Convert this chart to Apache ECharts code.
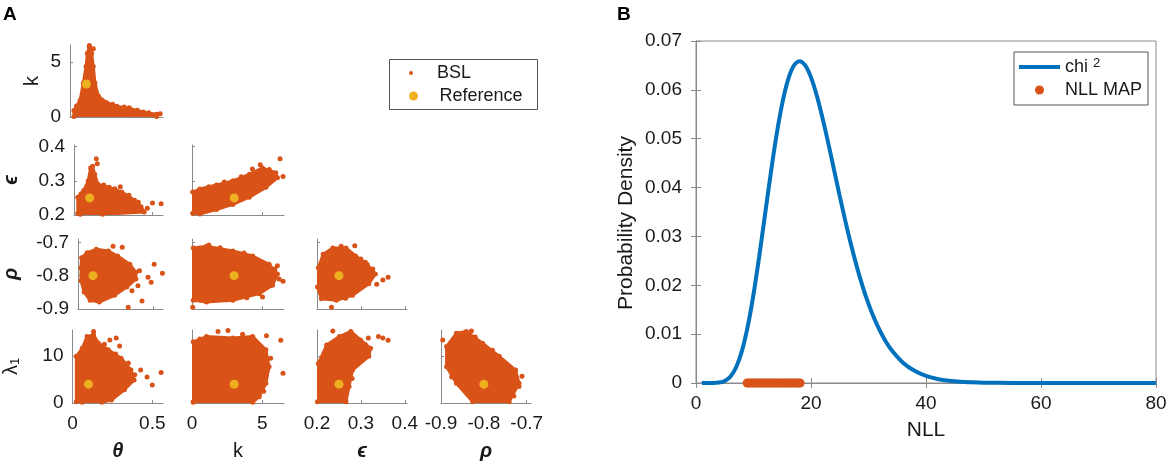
<!DOCTYPE html>
<html>
<head>
<meta charset="utf-8">
<script src="https://cdn.jsdelivr.net/npm/echarts@6/dist/echarts.min.js"></script>
<style>
  html, body { margin: 0; padding: 0; background: #fff; }
  #chart { width: 1170px; height: 464px; }
</style>
</head>
<body>
<div id="chart"></div>
<script>
// ---- panel A: posterior samples, outline of each dense cloud + stray points ----
var thetaK_hull = [[0.024,0.05],[0.024,0.6],[0.061,1.5],[0.081,3.1],[0.098,4.6],[0.106,5.8],[0.118,6.4],[0.132,5.8],[0.142,4.6],[0.152,3.1],[0.173,1.9],[0.224,1.3],[0.285,0.97],[0.366,0.75],[0.447,0.45],[0.528,0.24],[0.528,0.05]];
var thetaK_out = [[0.118,6.5],[0.142,6.2],[0.36,0.85],[0.5,0.2],[0.55,0.3],[0.04,1.0],[0.2,1.45],[0.26,1.15],[0.33,0.9],[0.41,0.62],[0.48,0.38]];

var thetaEps_hull = [[0.024,0.205],[0.024,0.252],[0.061,0.271],[0.091,0.30],[0.106,0.338],[0.118,0.343],[0.132,0.319],[0.152,0.29],[0.224,0.281],[0.305,0.267],[0.386,0.243],[0.427,0.224],[0.447,0.209],[0.183,0.202],[0.04,0.202]];
var thetaEps_out = [[0.142,0.365],[0.148,0.35],[0.467,0.22],[0.5,0.235],[0.555,0.233],[0.295,0.283],[0.41,0.237],[0.19,0.288],[0.26,0.277],[0.35,0.258],[0.045,0.262]];

var kEps_hull = [[0.05,0.205],[0.05,0.267],[0.56,0.276],[1.74,0.288],[2.91,0.30],[4.08,0.319],[5.02,0.338],[5.96,0.324],[6.08,0.309],[5.26,0.281],[4.08,0.252],[2.91,0.231],[1.74,0.216],[0.56,0.203]];
var kEps_out = [[6.27,0.365],[6.48,0.313],[4.86,0.347],[4.3,0.335],[1.2,0.283],[2.3,0.297],[3.5,0.312],[5.5,0.333]];

var thetaRho_hull = [[0.02,-0.776],[0.024,-0.746],[0.061,-0.731],[0.122,-0.721],[0.203,-0.726],[0.264,-0.741],[0.346,-0.766],[0.386,-0.79],[0.386,-0.81],[0.325,-0.834],[0.244,-0.859],[0.142,-0.879],[0.081,-0.874],[0.041,-0.849],[0.02,-0.815]];
var thetaRho_out = [[0.234,-0.712],[0.295,-0.715],[0.508,-0.766],[0.563,-0.793],[0.335,-0.895],[0.427,-0.876],[0.488,-0.82],[0.467,-0.805],[0.41,-0.785],[0.4,-0.83],[0.36,-0.845]];

var kRho_hull = [[0.09,-0.717],[1.03,-0.712],[2.91,-0.726],[4.32,-0.741],[5.49,-0.766],[6.08,-0.795],[5.73,-0.829],[4.79,-0.854],[2.91,-0.874],[1.03,-0.879],[0.09,-0.874]];
var kRho_out = [[0.05,-0.895],[6.48,-0.817],[5.02,-0.864],[1.2,-0.708],[6.08,-0.77],[2.0,-0.716],[3.7,-0.732],[5.9,-0.78],[6.2,-0.81],[3.9,-0.866]];

var epsRho_hull = [[0.203,-0.776],[0.214,-0.736],[0.236,-0.717],[0.266,-0.717],[0.288,-0.741],[0.314,-0.766],[0.333,-0.795],[0.318,-0.824],[0.281,-0.859],[0.244,-0.874],[0.21,-0.869],[0.201,-0.834]];
var epsRho_out = [[0.255,-0.712],[0.286,-0.71],[0.233,-0.895],[0.336,-0.826],[0.35,-0.813],[0.362,-0.805],[0.31,-0.76],[0.3,-0.75],[0.327,-0.78],[0.265,-0.868]];

var thetaLam_hull = [[0.024,0.28],[0.024,9.9],[0.061,11.6],[0.091,14.1],[0.132,14.5],[0.163,12.7],[0.224,11.3],[0.305,9.5],[0.366,7.0],[0.386,4.9],[0.325,2.8],[0.244,0.64],[0.183,0.15],[0.061,0.15]];
var thetaLam_out = [[0.132,15.2],[0.234,13.4],[0.274,13.8],[0.295,12.1],[0.427,7.0],[0.467,5.5],[0.5,3.8],[0.555,6.5],[0.35,8.5],[0.39,6.0],[0.2,12.5],[0.27,10.4]];

var kLam_hull = [[0.09,0.28],[0.09,13.0],[1.03,14.1],[2.91,13.8],[4.32,14.1],[5.26,11.3],[5.49,7.7],[5.26,4.2],[4.79,1.35],[4.32,0.15],[0.09,0.15]];
var kLam_out = [[1.85,15.2],[2.56,15.4],[6.32,13.3],[6.48,6.3],[5.3,14.3],[0.56,13.6],[3.6,14.6],[5.6,9.5],[5.1,2.5]];

var epsLam_hull = [[0.201,0.28],[0.203,8.4],[0.222,12.3],[0.251,14.1],[0.277,15.2],[0.299,13.4],[0.322,11.6],[0.318,9.9],[0.281,7.0],[0.273,3.5],[0.266,0.28]];
var epsLam_out = [[0.34,14.1],[0.35,13.8],[0.362,13.3],[0.317,13.8],[0.236,15.3],[0.31,12.4],[0.29,8.3],[0.28,5.2]];

var rhoLam_hull = [[-0.887,12.0],[-0.864,14.8],[-0.841,15.2],[-0.803,12.7],[-0.764,9.9],[-0.726,7.0],[-0.718,4.2],[-0.741,0.28],[-0.826,0.28],[-0.864,4.2],[-0.887,7.7]];
var rhoLam_out = [[-0.896,13.4],[-0.711,5.7],[-0.718,3.5],[-0.74,7.7],[-0.829,15.3],[-0.82,14.0],[-0.78,11.2],[-0.73,1.5],[-0.875,5.5]];

var reference = { theta: 0.1, k: 3, eps: 0.25, rho: -0.8, lambda: 4 };

var thetaTicks = [0, 0.5];
var kTicks = [0, 5];
var epsTicks = [0.2, 0.3, 0.4];
var rhoTicks = [-0.9, -0.8, -0.7];
var lambdaTicks = [0, 10];

// ---- panel B: chi-square density and NLL at MAP ----
var nllX = [1,2,3,4,5,6,7,8,9,10,11,12,13,14,15,16,17,18,19,20,21,22,23,24,25,26,27,28,29,30,31,32,33,34,36,38,40,42,44,46,48,50,55,60,65,70,75,80];
var chiDensity = [0,0,0.00001,0.0001,0.00043,0.00135,0.00328,0.00662,0.01158,0.01813,0.02593,0.03442,0.0429,0.0507,0.05722,0.06204,0.06493,0.06588,0.065,0.06256,0.05886,0.05426,0.0491,0.04368,0.03826,0.03303,0.02813,0.02367,0.01969,0.0162,0.0132,0.01066,0.0085,0.00676,0.00416,0.00249,0.00145,0.00083,0.00046,0.00025,0.00014,0.00007,0.00001,0,0,0,0,0];
var nllMap = [8.9,9.2,9.6,10.0,10.3,10.7,11.1,11.5,11.8,12.2,12.6,13.0,13.3,13.7,14.1,14.5,14.8,15.2,15.6,16.0,16.3,16.7,17.1,17.5,17.8,18.1];
var chiTicksX = [0, 20, 40, 60, 80];
var chiTicksY = [0, 0.01, 0.02, 0.03, 0.04, 0.05, 0.06, 0.07];

var orange = '#D95319';
var yellow = '#EDB120';
var blue = '#0072BD';
var axisGrey = '#8a8a8a';
var ink = '#1a1a1a';
var font = '"Liberation Sans", Arial, sans-serif';

var vars = {
  theta: { range: [0, 0.567], ticks: thetaTicks, name: 'θ', greek: true },
  k: { range: [0, 6.55], ticks: kTicks, name: 'k' },
  eps: { range: [0.2, 0.405], ticks: epsTicks, name: 'ϵ', greek: true },
  rho: { range: [-0.9, -0.69], ticks: rhoTicks, name: 'ρ', greek: true },
  lambda: { range: [0, 15.5], ticks: lambdaTicks, name: 'λ{sub|1}' }
};
var colVars = ['theta', 'k', 'eps', 'rho'];
var rowVars = ['k', 'eps', 'rho', 'lambda'];
var colLeft = [70, 192, 317, 441];
var colWidth = [93, 92, 90, 90];
var rowTop = [45, 145, 239, 330];
var rowHeight = [72, 70, 70, 73];
var yNameGap = [28, 53, 57, 51];

var panels = [
  [1, 0, thetaK_hull, thetaK_out],
  [2, 0, thetaEps_hull, thetaEps_out],
  [2, 1, kEps_hull, kEps_out],
  [3, 0, thetaRho_hull, thetaRho_out],
  [3, 1, kRho_hull, kRho_out],
  [3, 2, epsRho_hull, epsRho_out],
  [4, 0, thetaLam_hull, thetaLam_out],
  [4, 1, kLam_hull, kLam_out],
  [4, 2, epsLam_hull, epsLam_out],
  [4, 3, rhoLam_hull, rhoLam_out]
];

var grids = [], xAxes = [], yAxes = [], series = [];

function nameStyle(v) {
  return {
    fontFamily: font, fontSize: 20, color: ink,
    fontStyle: v.greek ? 'italic' : 'normal',
    fontWeight: v.greek ? 'bold' : 'normal',
    rich: { sub: { fontSize: 13, fontFamily: font, color: ink, verticalAlign: 'bottom', padding: [8, 0, 0, 0] } }
  };
}

panels.forEach(function(p, i) {
  var row = p[0] - 1, col = p[1];
  var xv = vars[colVars[col]], yv = vars[rowVars[row]];
  var isBottom = row === 3, isLeft = col === 0;
  grids.push({ left: colLeft[col], top: rowTop[row], width: colWidth[col], height: rowHeight[row] });
  xAxes.push({
    type: 'value', gridIndex: i, min: xv.range[0], max: xv.range[1],
    splitLine: { show: false },
    axisLine: { onZero: false, lineStyle: { color: axisGrey, width: 1 } },
    axisTick: { inside: true, length: 3, customValues: xv.ticks, lineStyle: { color: axisGrey } },
    axisLabel: { show: isBottom, customValues: xv.ticks, color: ink, fontSize: 19, fontFamily: font, margin: 11 },
    name: isBottom ? xv.name : '', nameLocation: 'middle', nameGap: 38, nameTextStyle: nameStyle(xv)
  });
  yAxes.push({
    type: 'value', gridIndex: i, min: yv.range[0], max: yv.range[1],
    splitLine: { show: false },
    axisLine: { show: true, onZero: false, lineStyle: { color: axisGrey, width: 1 } },
    axisTick: { show: true, inside: true, length: 3, customValues: yv.ticks, lineStyle: { color: axisGrey } },
    axisLabel: { show: isLeft, customValues: yv.ticks, color: ink, fontSize: 19, fontFamily: font, margin: 9 },
    name: isLeft ? yv.name : '', nameLocation: 'middle', nameRotate: 90, nameGap: yNameGap[row], nameTextStyle: nameStyle(yv)
  });
  var hull = p[2];
  series.push({
    type: 'custom', name: 'cloud', xAxisIndex: i, yAxisIndex: i, silent: true, clip: true,
    data: [hull[0]],
    renderItem: function(params, api) {
      return {
        type: 'polygon',
        shape: { points: hull.map(function(pt) { return api.coord(pt); }) },
        style: { fill: orange, stroke: orange, lineWidth: 3, lineJoin: 'round' }
      };
    }
  });
  series.push({
    type: 'scatter', name: 'BSL', xAxisIndex: i, yAxisIndex: i, symbolSize: 5,
    itemStyle: { color: orange, opacity: 1 }, data: hull.concat(p[3]), silent: true
  });
  series.push({
    type: 'scatter', name: 'Reference', xAxisIndex: i, yAxisIndex: i, symbolSize: 9,
    itemStyle: { color: yellow, opacity: 1 }, z: 5, silent: true,
    data: [[reference[colVars[col]], reference[rowVars[row]]]]
  });
});

// panel B grid
var gB = grids.length;
grids.push({ left: 696, top: 41, width: 460, height: 342, show: true, borderColor: axisGrey, borderWidth: 1, backgroundColor: 'transparent' });
xAxes.push({
  type: 'value', gridIndex: gB, min: 0, max: 80,
  splitLine: { show: false },
  axisLine: { onZero: false, lineStyle: { color: axisGrey } },
  axisTick: { inside: true, length: 5, customValues: chiTicksX, lineStyle: { color: axisGrey } },
  axisLabel: { customValues: chiTicksX, color: ink, fontSize: 19, fontFamily: font, margin: 11 },
  name: 'NLL', nameLocation: 'middle', nameGap: 37,
  nameTextStyle: { fontFamily: font, fontSize: 21, color: ink }
});
yAxes.push({
  type: 'value', gridIndex: gB, min: 0, max: 0.07,
  splitLine: { show: false },
  axisLine: { show: true, onZero: false, lineStyle: { color: axisGrey } },
  axisTick: { show: true, inside: true, length: 5, customValues: chiTicksY, lineStyle: { color: axisGrey } },
  axisLabel: { customValues: chiTicksY, color: ink, fontSize: 19, fontFamily: font, margin: 14 },
  name: 'Probability Density', nameLocation: 'middle', nameRotate: 90, nameGap: 59,
  nameTextStyle: { fontFamily: font, fontSize: 21, color: ink, padding: [0, 22, 0, 0] }
});
// top / right tick marks of the box
xAxes.push({
  type: 'value', gridIndex: gB, position: 'top', min: 0, max: 80,
  splitLine: { show: false }, axisLabel: { show: false },
  axisLine: { show: false },
  axisTick: { inside: true, length: 5, customValues: chiTicksX, lineStyle: { color: axisGrey } }
});
yAxes.push({
  type: 'value', gridIndex: gB, position: 'right', min: 0, max: 0.07,
  splitLine: { show: false }, axisLabel: { show: false },
  axisLine: { show: false },
  axisTick: { show: true, inside: true, length: 5, customValues: chiTicksY, lineStyle: { color: axisGrey } }
});

series.push({
  type: 'line', name: 'chi^2', xAxisIndex: gB, yAxisIndex: gB, smooth: 0.3, symbol: 'none',
  lineStyle: { color: blue, width: 4 }, itemStyle: { color: blue }, z: 3,
  data: nllX.map(function(x, i) { return [x, chiDensity[i]]; })
});
series.push({
  type: 'scatter', name: 'NLL MAP', xAxisIndex: gB, yAxisIndex: gB, symbolSize: 9,
  itemStyle: { color: orange, opacity: 1 }, z: 4, clip: false,
  data: nllMap.map(function(x) { return [x, 0]; })
});

var legendText = { fontFamily: font, fontSize: 18, color: ink, lineHeight: 20, padding: [0, 0, 0, 16] };

var chart = echarts.init(document.getElementById('chart'), null, { renderer: 'canvas' });
chart.setOption({
  animation: false,
  backgroundColor: '#fff',
  grid: grids,
  xAxis: xAxes,
  yAxis: yAxes,
  legend: [
    {
      data: ['BSL'], left: 409, top: 63, padding: 0,
      itemWidth: 10, itemHeight: 4, selectedMode: false, textStyle: legendText
    },
    {
      data: ['Reference'], left: 409, top: 86, padding: 0,
      itemWidth: 10, itemHeight: 9, selectedMode: false, textStyle: legendText
    },
    {
      data: [
        { name: 'chi^2', icon: 'path://M0,0L41,0L41,4L0,4Z' },
        { name: 'NLL MAP', icon: 'circle' }
      ],
      orient: 'vertical', left: 1014, top: 52,
      padding: [5, 6, 5, 5], itemGap: 3, itemWidth: 41, itemHeight: 9,
      borderColor: '#555', borderWidth: 1, backgroundColor: '#fff',
      selectedMode: false,
      formatter: function(n) { return n === 'chi^2' ? 'chi {sup|2}' : n; },
      textStyle: {
        fontFamily: font, fontSize: 18, color: ink, lineHeight: 20,
        rich: { sup: { fontSize: 13, fontFamily: font, color: ink, verticalAlign: 'top', padding: [0, 0, 8, 0] } }
      }
    }
  ],
  graphic: [
    { type: 'rect', left: 389, top: 59, z: -1, shape: { width: 148, height: 50 }, style: { fill: '#fff', stroke: '#555', lineWidth: 1 } },
    { type: 'text', left: 3, top: 5, style: { text: 'A', font: 'bold 19px ' + font, fill: '#000' } },
    { type: 'text', left: 617, top: 5, style: { text: 'B', font: 'bold 19px ' + font, fill: '#000' } }
  ],
  series: series
});

window.addEventListener('resize', function() {
  chart.resize();
});
</script>
</body>
</html>
